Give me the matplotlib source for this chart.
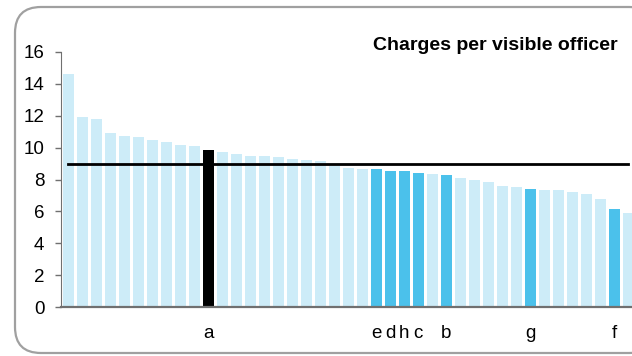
import matplotlib
matplotlib.use("Agg")
import matplotlib.pyplot as plt
from matplotlib.patches import FancyBboxPatch

# ── Data ───────────────────────────────────────────────────────────────────────
values = [14.62, 11.92, 11.80, 10.90, 10.75, 10.67, 10.50, 10.36, 10.13, 10.12,
          9.86, 9.73, 9.62, 9.48, 9.44, 9.40, 9.27, 9.23, 9.15, 8.87,
          8.71, 8.67, 8.66, 8.52, 8.52, 8.41, 8.37, 8.31, 8.12, 7.98,
          7.83, 7.60, 7.54, 7.41, 7.37, 7.33, 7.24, 7.08, 6.79, 6.18,
          5.93]
labels = {10: "a", 22: "e", 23: "d", 24: "h", 25: "c", 27: "b", 33: "g", 39: "f"}
black_idx = [10]
average = 9.0
yticks = [0, 2, 4, 6, 8, 10, 12, 14, 16]
title = "Charges per visible officer"

LIGHT = "#cdecf8"
BLUE = "#4bc1eb"

plt.rcParams["font.family"] = ["Liberation Sans", "DejaVu Sans"]

W, H = 632, 356
fig = plt.figure(figsize=(W / 100, H / 100), dpi=100)

# rounded frame drawn in pixel coordinates
bg = fig.add_axes([0, 0, 1, 1])
bg.set_xlim(0, W)
bg.set_ylim(0, H)
bg.axis("off")
frame = FancyBboxPatch((15, 3), 640, 346, boxstyle="round,pad=0,rounding_size=26",
                       fc="white", ec="#a0a0a0", lw=1.6)
bg.add_patch(frame)

ax = fig.add_axes([61 / W, (H - 307.3) / H, 574.4 / W, 255.6 / H])
ax.patch.set_alpha(0)

x = list(range(len(values)))
colors = []
for i in x:
    if i in black_idx:
        colors.append("black")
    elif i in labels:
        colors.append(BLUE)
    else:
        colors.append(LIGHT)
ax.bar(x, values, width=0.8, color=colors, zorder=2)
ax.plot([0, len(values) - 1], [average, average], color="black", lw=2, zorder=3)

ax.set_xlim(-0.53, len(values) - 0.5)
ax.set_ylim(0, 16)
ax.set_yticks(yticks)
ax.set_yticklabels([str(t) for t in yticks], fontsize=13.5)
ax.set_xticks(list(labels.keys()))
ax.set_xticklabels(list(labels.values()), fontsize=13.5)
ax.tick_params(axis="y", length=4, width=1, color="#707070", pad=8)
ax.tick_params(axis="x", length=0, pad=13)

for s in ["top", "right"]:
    ax.spines[s].set_visible(False)
ax.spines["left"].set_color("#707070")
ax.spines["bottom"].set_color("#707070")
ax.spines["bottom"].set_linewidth(1.6)

fig.text(618 / W, (H - 45) / H, title, ha="right", va="center",
         fontsize=14, fontweight="bold")

fig.savefig("out.png", dpi=100)
